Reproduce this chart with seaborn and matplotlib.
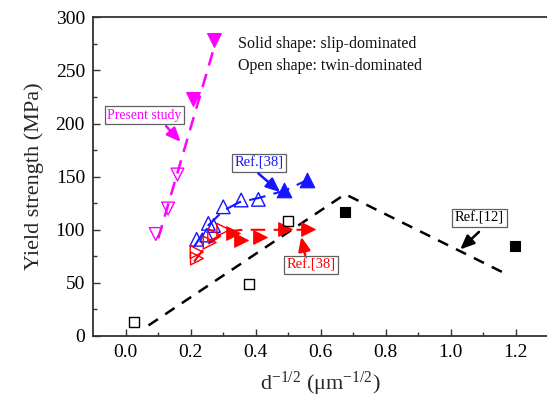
import matplotlib
matplotlib.use("Agg")
import matplotlib.pyplot as plt
import seaborn as sns
import numpy as np

# ---------------- data ----------------
# Present study (magenta, inverted triangles)
mag_open_x = [0.092, 0.130, 0.159]
mag_open_y = [96, 120, 152]
mag_solid_x = [0.208, 0.272]
mag_solid_y = [223, 279]
mag_fit_x = [0.100, 0.275]
mag_fit_y = [92, 275]

# Ref.[38] (blue, up triangles)
blue_open_x = [0.218, 0.249, 0.254, 0.270, 0.300, 0.355, 0.408]
blue_open_y = [91, 95, 106, 104, 121.6, 128, 128.6]
blue_solid_x = [0.488, 0.557]
blue_solid_y = [137, 147]
blue_fit_x = [0.21, 0.25, 0.30, 0.35, 0.41, 0.49, 0.56]
blue_fit_y = [84, 103, 118, 126, 130, 137, 147]

# Ref.[38] (red, right triangles)
red_open_x = [0.218, 0.219, 0.258, 0.272, 0.300]
red_open_y = [79, 73, 88, 95, 100]
red_solid_x = [0.331, 0.355, 0.413, 0.490, 0.562]
red_solid_y = [97, 90, 93, 101, 101]
red_fit_x = [0.21, 0.25, 0.30, 0.33, 0.36, 0.41, 0.49, 0.56]
red_fit_y = [70, 86, 96, 99, 100, 100, 100, 100]

# Ref.[12] (black, squares)
blk_open_x = [0.026, 0.379, 0.498]
blk_open_y = [13.5, 48.6, 108.4]
blk_solid_x = [0.675, 1.198]
blk_solid_y = [116.3, 84.6]
blk_fit_x = [0.07, 0.675, 1.177]
blk_fit_y = [10, 133.5, 57.4]

x_ticks = [0.0, 0.2, 0.4, 0.6, 0.8, 1.0, 1.2]
x_minor = [0.1, 0.3, 0.5, 0.7, 0.9, 1.1]
y_ticks = [0, 50, 100, 150, 200, 250, 300]
y_minor = [25, 75, 125, 175, 225, 275]

MAG = "#FF00FF"
BLUE = "#1515FF"
RED = "#FF0000"
BLK = "#000000"

# ---------------- style ----------------
sns.set_theme(style="ticks")
plt.rcParams["font.family"] = ["Liberation Serif", "DejaVu Serif"]
plt.rcParams["mathtext.fontset"] = "custom"
plt.rcParams["mathtext.rm"] = "Liberation Serif"
plt.rcParams["mathtext.it"] = "Liberation Serif:italic"

fig = plt.figure(figsize=(5.47, 3.99), dpi=100)
ax = fig.add_axes([0.1706, 0.1579, 0.8316, 0.7987])

# ---------------- lines ----------------
sns.lineplot(x=blk_fit_x, y=blk_fit_y, ax=ax, color=BLK, lw=1.8,
             linestyle=(0, (4.5, 3.5)), sort=False, errorbar=None)
sns.lineplot(x=mag_fit_x, y=mag_fit_y, ax=ax, color=MAG, lw=1.8,
             linestyle=(0, (5.5, 3.5)), sort=False, errorbar=None)
sns.lineplot(x=blue_fit_x, y=blue_fit_y, ax=ax, color=BLUE, lw=1.5,
             linestyle=(0, (8, 4)), sort=False, errorbar=None)
sns.lineplot(x=red_fit_x, y=red_fit_y, ax=ax, color=RED, lw=1.5,
             linestyle=(0, (7, 4)), sort=False, errorbar=None)

# ---------------- markers ----------------
def pts(x, y, marker, color, size, filled):
    if filled:
        sns.scatterplot(x=x, y=y, ax=ax, marker=marker, s=size, color=color,
                        edgecolor=color, linewidth=0.8, zorder=4)
    else:
        sns.scatterplot(x=x, y=y, ax=ax, marker=marker, s=size, color=color,
                        facecolor="none", edgecolor=color, linewidth=1.0, zorder=4)

pts(mag_open_x, mag_open_y, "v", MAG, 85, False)
pts(mag_solid_x, mag_solid_y, "v", MAG, 100, True)
pts(blue_open_x, blue_open_y, "^", BLUE, 95, False)
pts(blue_solid_x, blue_solid_y, "^", BLUE, 110, True)
pts(red_open_x, red_open_y, ">", RED, 85, False)
pts(red_solid_x, red_solid_y, ">", RED, 95, True)
pts(blk_open_x, blk_open_y, "s", BLK, 50, False)
pts(blk_solid_x, blk_solid_y, "s", BLK, 50, True)

# ---------------- annotations ----------------
def label(text, xy_text, tip, start, color, fs=10):
    ax.text(xy_text[0], xy_text[1], text, color=color, fontsize=fs,
            ha="center", va="center", zorder=6,
            bbox=dict(boxstyle="square,pad=0.18", fc="white", ec="#606060", lw=0.9))
    ax.annotate("", xy=tip, xytext=start, zorder=6,
                arrowprops=dict(arrowstyle="-|>,head_length=0.7,head_width=0.3",
                                color=color, lw=1.8, mutation_scale=12,
                                shrinkA=0, shrinkB=0))

label("Present study", (0.057, 207.8), (0.169, 182.7), (0.124, 197.5), MAG)
label("Ref.[38]", (0.41, 163), (0.475, 135.4), (0.408, 153), BLUE, fs=10.5)
label("Ref.[38]", (0.57, 66.8), (0.540, 93.4), (0.552, 76.2), RED, fs=10.5)
label("Ref.[12]", (1.089, 111.3), (1.029, 81.5), (1.087, 98), BLK, fs=10.5)

ax.text(0.345, 274.6, "Solid shape: slip-dominated", fontsize=11.5,
        ha="left", va="center", color="#111111")
ax.text(0.345, 254.0, "Open shape: twin-dominated", fontsize=11.5,
        ha="left", va="center", color="#111111")

# ---------------- axes ----------------
ax.set_xlim(-0.1, 1.3)
ax.set_ylim(0, 300)
ax.set_xticks(x_ticks)
ax.set_xticklabels([f"{t:.1f}" for t in x_ticks])
ax.set_yticks(y_ticks)
ax.set_yticklabels([str(t) for t in y_ticks])
ax.set_xticks(x_minor, minor=True)
ax.set_yticks(y_minor, minor=True)
ax.tick_params(axis="both", which="major", direction="in", length=5, width=1,
               labelsize=14, color="#333333", labelcolor="black", pad=6)
ax.tick_params(axis="both", which="minor", direction="in", length=3, width=1,
               color="#333333")
ax.tick_params(top=False, right=False, which="both")

ax.set_xlabel(r"d$^{\mathregular{-1/2}}$ (μm$^{\mathregular{-1/2}}$)", fontsize=16, labelpad=6)
ax.set_ylabel("Yield strength (MPa)", fontsize=16, labelpad=8)

for side in ["left", "bottom", "top"]:
    ax.spines[side].set_color("#333333")
    ax.spines[side].set_linewidth(1.3)
ax.spines["right"].set_visible(False)
ax.set_facecolor("white")
fig.patch.set_facecolor("white")

fig.savefig("out.png", dpi=100)
